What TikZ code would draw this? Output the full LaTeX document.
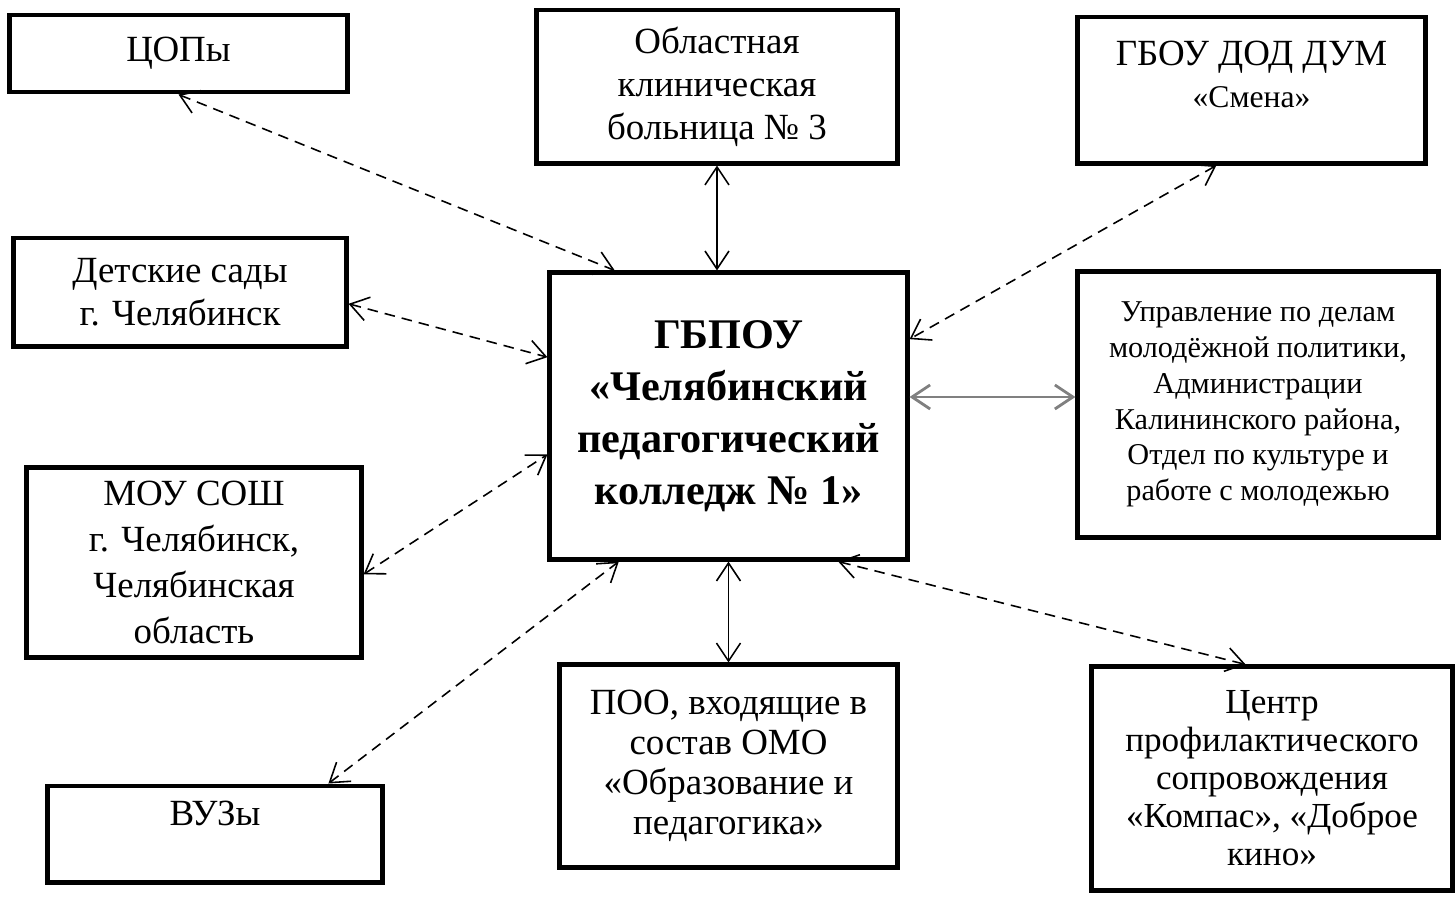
\documentclass[tikz,border=0pt]{standalone}
\usepackage{fontspec}
\setmainfont{Liberation Serif}
\usetikzlibrary{arrows.meta}

\tikzset{
  box/.style={draw, line width=1.4pt, align=center, inner sep=2pt},
  link/.style={{Straight Barb[length=1.8mm,width=2.4mm]}-{Straight Barb[length=1.8mm,width=2.4mm]}, line width=0.45pt, densely dashed},
}

\begin{document}
\begin{tikzpicture}[x=0.01cm, y=-0.01cm]
\useasboundingbox (0,0) rectangle (1456,896);
% the college in the middle
\node[box, minimum width=3.57cm, minimum height=2.86cm, font=\bfseries\fontsize{12}{14.8}\selectfont] (main) at (728.5,416)
  {ГБПОУ\\«Челябинский\\педагогический\\колледж № 1»};
% partners
\node[box, minimum width=3.37cm, minimum height=0.77cm, font=\fontsize{10.5}{12}\selectfont] (cop) at (178.5,53.5) {ЦОПы};
\node[box, minimum width=3.6cm, minimum height=1.53cm, font=\fontsize{10.5}{12.2}\selectfont] (hosp) at (717,86.5)
  {Областная\\клиническая\\больница № 3};
\node[box, minimum width=3.47cm, minimum height=1.46cm] (smena) at (1251.5,90) {};
\node[align=center, below] (smenatxt) at ([yshift=-0.14cm]smena.north)
  {\fontsize{10.5}{12.5}\selectfont ГБОУ ДОД ДУМ\\\fontsize{9}{11}\selectfont «Смена»};
\node[box, minimum width=3.32cm, minimum height=1.08cm, font=\fontsize{10.5}{12.3}\selectfont] (sady) at (180,292)
  {Детские сады\\г. Челябинск};
\node[box, minimum width=3.34cm, minimum height=1.89cm, font=\fontsize{10.5}{13}\selectfont] (mou) at (194,562.5)
  {МОУ СОШ\\г. Челябинск,\\Челябинская\\область};
\node[box, minimum width=3.34cm, minimum height=0.96cm] (vuz) at (215,834) {};
\node[font=\fontsize{10.5}{12}\selectfont] (vuztxt) at ([yshift=-0.3cm]vuz.north) {ВУЗы};
\node[box, minimum width=3.6cm, minimum height=2.65cm, font=\fontsize{8.6}{10.2}\selectfont] (upr) at (1258,404.5)
  {Управление по делам\\молодёжной политики,\\Администрации\\Калининского района,\\Отдел по культуре и\\работе с молодежью};
\node[box, minimum width=3.37cm, minimum height=2.02cm, font=\fontsize{10.5}{11.4}\selectfont] (poo) at (728.5,766)
  {ПОО, входящие в\\состав ОМО\\«Образование и\\педагогика»};
\node[box, minimum width=3.6cm, minimum height=2.23cm, font=\fontsize{10}{10.8}\selectfont] (centr) at (1272,778.5)
  {Центр\\профилактического\\сопровождения\\«Компас», «Доброе\\кино»};
% connectors
\draw[link] (cop.south) -- (main.128);
\draw[link, solid] (hosp.south) -- (hosp.south |- main.north);
\draw[link] (smena.245) -- (main.23);
\draw[link] (sady.-4) -- (main.162);
\draw[link] (mou.-4) -- (main.192);
\draw[link, solid, gray, line width=0.8pt] (main.6) -- (main.6 -| upr.west);
\draw[link] (vuz.24) -- (main.233);
\draw[link, solid] (main.south) -- (poo.north);
\draw[link] (main.-53) -- (centr.103);
\end{tikzpicture}
\end{document}
